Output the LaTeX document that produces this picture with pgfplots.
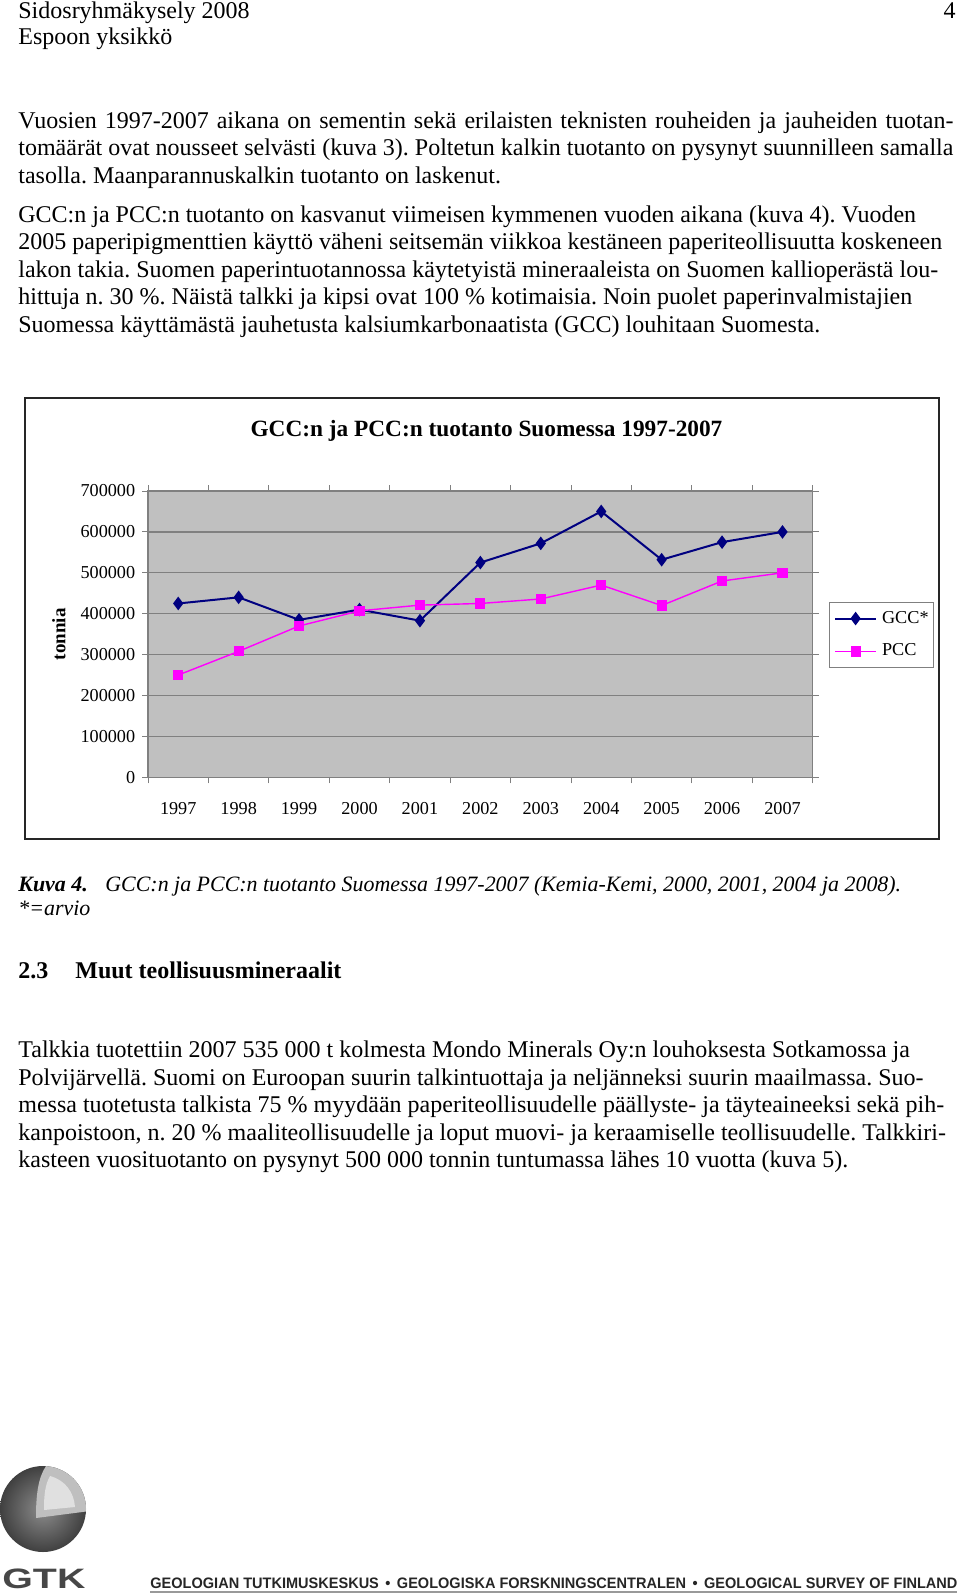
\documentclass[border=0pt]{standalone}
\usepackage{fontspec}
\setmainfont{Liberation Serif}
\newfontfamily\sansf{Liberation Sans}
\usepackage{pgfplots}
\usepackage{graphicx}
\pgfplotsset{compat=1.18}
\definecolor{gccc}{HTML}{000080}
\definecolor{pccc}{HTML}{FF00FF}
\definecolor{plotbg}{HTML}{C0C0C0}
\definecolor{gridc}{HTML}{808080}
\newcommand\bodyf{\fontsize{12pt}{14pt}\selectfont}
\newcommand\capf{\fontsize{10.96pt}{13pt}\selectfont}
\newcommand\tickf{\fontsize{9.1pt}{11pt}\selectfont}
\frenchspacing
\begin{document}
\begin{tikzpicture}
\begin{scope}[x=0.5pt,y=-0.5pt]
\path[use as bounding box] (0,0) rectangle (960,1593);
\tikzset{txt/.style={anchor=base west, inner sep=0pt, font=\bodyf}}
% header
\node[txt] at (18,18.3) {Sidosryhmäkysely 2008};
\node[txt] at (18,44.3) {Espoon yksikkö};
\node[txt, anchor=base east] at (956,18.3) {4};
% paragraph 1
\node[txt] at (18,128.3) {\makebox[467.5pt][s]{Vuosien 1997-2007 aikana on sementin sekä erilaisten teknisten rouheiden ja jauheiden tuotan-}};
\node[txt] at (18,155.7) {\makebox[467.5pt][s]{tomäärät ovat nousseet selvästi (kuva 3). Poltetun kalkin tuotanto on pysynyt suunnilleen samalla}};
\node[txt] at (18,183.3) {tasolla. Maanparannuskalkin tuotanto on laskenut.};
% paragraph 2
\node[txt] at (18,222.7) {GCC:n ja PCC:n tuotanto on kasvanut viimeisen kymmenen vuoden aikana (kuva 4). Vuoden};
\node[txt] at (18,250) {2005 paperipigmenttien käyttö väheni seitsemän viikkoa kestäneen paperiteollisuutta koskeneen};
\node[txt] at (18,277.7) {lakon takia. Suomen paperintuotannossa käytetyistä mineraaleista on Suomen kallioperästä lou-};
\node[txt] at (18,305) {hittuja n. 30 \%. Näistä talkki ja kipsi ovat 100 \% kotimaisia. Noin puolet paperinvalmistajien};
\node[txt] at (18,332.7) {Suomessa käyttämästä jauhetusta kalsiumkarbonaatista (GCC) louhitaan Suomesta.};
% chart frame
\draw[black!85, line width=1pt] (25,398) rectangle (939,839);
% caption
\node[txt, font=\capf] at (18,891.7) {\textbf{\textit{Kuva 4.}}};
\node[txt, font=\capf] at (105,891.7) {\textit{GCC:n ja PCC:n tuotanto Suomessa 1997-2007 (Kemia-Kemi, 2000, 2001, 2004 ja 2008).}};
\node[txt, font=\capf] at (18,915.5) {\textit{*=arvio}};
% heading
\node[txt] at (18,978) {\textbf{2.3}};
\node[txt] at (75,978) {\textbf{Muut teollisuusmineraalit}};
% paragraph 3
\node[txt] at (18,1057.3) {Talkkia tuotettiin 2007 535 000 t kolmesta Mondo Minerals Oy:n louhoksesta Sotkamossa ja};
\node[txt] at (18,1085) {Polvijärvellä. Suomi on Euroopan suurin talkintuottaja ja neljänneksi suurin maailmassa. Suo-};
\node[txt] at (18,1112.7) {messa tuotetusta talkista 75 \% myydään paperiteollisuudelle päällyste- ja täyteaineeksi sekä pih-};
\node[txt] at (18,1140) {kanpoistoon, n. 20 \% maaliteollisuudelle ja loput muovi- ja keraamiselle teollisuudelle. Talkkiri-};
\node[txt] at (18,1167.3) {kasteen vuosituotanto on pysynyt 500 000 tonnin tuntumassa lähes 10 vuotta (kuva 5).};
% logo
\shade[inner color=black!45, outer color=black!75] (43,1509) circle (21.5pt);
\begin{scope}
\clip (43,1509) circle (21.5pt);
\fill[black!25] (46,1466) .. controls (38,1478) and (36,1495) .. (36,1518) -- (90,1511) -- (90,1455) -- cycle;
\fill[black!12] (50,1476) .. controls (45,1485) and (44,1495) .. (44,1510) -- (75,1507) .. controls (74,1492) and (65,1480) .. cycle;
\end{scope}
\node[anchor=base west, inner sep=0pt, text=black!72] at (2,1588) {\resizebox{41.5pt}{9.8pt}{\sansf\bfseries GTK}};
\node[anchor=base west, inner sep=0pt, text=black!85] at (150,1588.5) {\resizebox{403.5pt}{5.3pt}{\sansf\bfseries GEOLOGIAN TUTKIMUSKESKUS \,•\, GEOLOGISKA FORSKNINGSCENTRALEN \,•\, GEOLOGICAL SURVEY OF FINLAND}};
\draw[black!40, line width=0.8pt] (150,1592) -- (957,1592);
\end{scope}
\begin{axis}[
  at={(74pt,-388.65pt)}, anchor=south west,
  scale only axis, width=332.35pt, height=143.15pt,
  xmin=-0.5, xmax=10.5, ymin=0, ymax=700000,
  scaled y ticks=false,
  xtick={-0.5,0.5,1.5,2.5,3.5,4.5,5.5,6.5,7.5,8.5,9.5,10.5},
  xticklabels={1997,1998,1999,2000,2001,2002,2003,2004,2005,2006,2007,{}},
  xticklabel style={anchor=base, yshift=-15.5pt, xshift=15.11pt, inner sep=0pt},
  ytick={0,100000,200000,300000,400000,500000,600000,700000},
  yticklabels={0,100000,200000,300000,400000,500000,600000,700000},
  yticklabel style={anchor=east, inner sep=0pt, xshift=-3.2pt},
  /pgf/number format/assume math mode=true,
  tick label style={font=\tickf},
  tick align=outside, major tick length=3pt,
  tick style={draw=gridc, line width=0.5pt},
  ymajorgrids, grid style={draw=gridc, line width=0.6pt},
  axis background/.style={fill=plotbg},
  axis line style={draw=gridc, line width=0.6pt},
  title={GCC:n ja PCC:n tuotanto Suomessa 1997-2007},
  title style={font=\bfseries\fontsize{11.65pt}{13pt}\selectfont, at={(0.5093,1.1921)}, anchor=base, inner sep=0pt, yshift=-6pt},
  ylabel={tonnia},
  ylabel style={font=\bfseries\fontsize{9.5pt}{11pt}\selectfont, at={(-0.1339,0.5)}, anchor=center, inner sep=0pt},
  legend style={at={(1.0245,0.6125)}, anchor=north west, draw=gridc, line width=0.5pt, fill=white,
    font=\tickf, inner xsep=2.3pt, inner ysep=4.3pt, row sep=8.9pt, column sep=2.5pt, nodes={inner sep=0pt}},
  legend cell align=left,
  legend image code/.code={\draw[mark repeat=2,mark phase=2,#1] plot coordinates {(0pt,0pt) (10.25pt,0pt) (20.5pt,0pt)};},
  clip=false,
]
\addplot[color=gccc, line width=1pt, mark=diamond*, mark size=2.6pt, mark options={solid}] coordinates {
(0,425000) (1,440000) (2,385000) (3,410000) (4,383000) (5,525000) (6,572000) (7,650000) (8,532000) (9,575000) (10,600000)};
\addlegendentry{GCC*}
\addplot[color=pccc, line width=0.7pt, mark=square*, mark size=2.2pt, mark options={solid}] coordinates {
(0,250000) (1,308000) (2,370000) (3,407000) (4,421000) (5,425000) (6,436000) (7,470000) (8,420000) (9,480000) (10,500000)};
\addlegendentry{PCC}
\end{axis}
\end{tikzpicture}
\end{document}
